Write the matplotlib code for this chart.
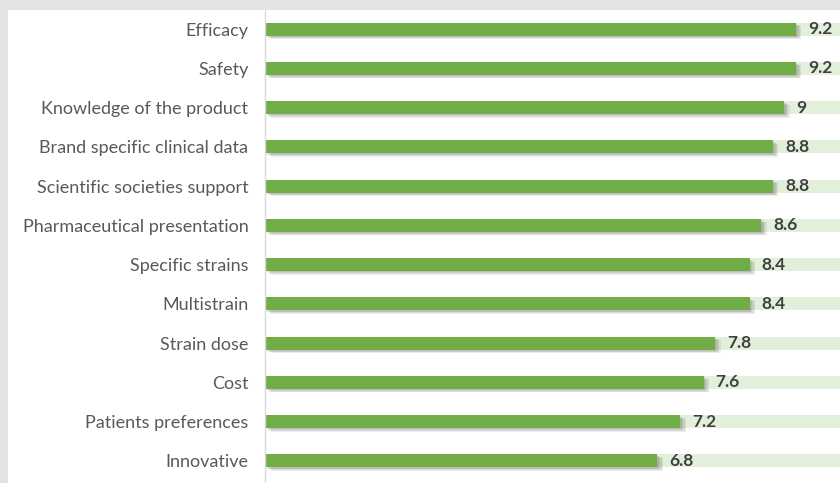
import matplotlib
matplotlib.use("Agg")
import matplotlib.pyplot as plt
import matplotlib.patheffects as pe
from matplotlib.patches import Rectangle

categories = [
    "Efficacy", "Safety", "Knowledge of the product", "Brand specific clinical data",
    "Scientific societies support", "Pharmaceutical presentation", "Specific strains",
    "Multistrain", "Strain dose", "Cost", "Patients preferences", "Innovative",
]
scores = [9.2, 9.2, 9.0, 8.8, 8.8, 8.6, 8.4, 8.4, 7.8, 7.6, 7.2, 6.8]
score_labels = ["9.2", "9.2", "9", "8.8", "8.8", "8.6", "8.4", "8.4", "7.8", "7.6", "7.2", "6.8"]
full_scale = 10

W, H = 840, 483
fig = plt.figure(figsize=(W / 100, H / 100), dpi=100)
fig.patch.set_facecolor("#e4e4e4")
fig.add_artist(Rectangle((8 / W, 0), 1 - 8 / W, (H - 10) / H,
                         transform=fig.transFigure, facecolor="white",
                         edgecolor="none", zorder=0))

ax = fig.add_axes([265 / W, 2.5 / H, 1 - 265 / W, (H - 12) / H])
ax.set_facecolor("none")

ypos = list(range(len(categories)))
bar_h = 0.33

ax.barh(ypos, [full_scale] * len(categories), height=bar_h, color="#e2efda",
        edgecolor="none", zorder=1)
bars = ax.barh(ypos, scores, height=bar_h, color="#70ad47", edgecolor="none", zorder=2)

# soft drop shadow built from a few faint offset copies
shadow = [pe.SimplePatchShadow(offset=o, shadow_rgbFace="#000000", alpha=0.07)
          for o in [(1, -1), (2, -1.5), (3, -2), (4, -2.5)]]
for b in bars:
    b.set_path_effects(shadow + [pe.Normal()])

for y, v, lab in zip(ypos, scores, score_labels):
    ax.text(v + 0.21, y, lab, va="center", ha="left", fontsize=12.5,
            fontweight="bold", color="#404040", family="Lato", zorder=3)

ax.set_yticks(ypos)
ax.set_yticklabels(categories, fontsize=13, color="#595959", family="Lato")
ax.tick_params(axis="y", length=0, pad=12)
ax.set_xticks([])
ax.set_xlim(0, 575 / 57.7)
ax.set_ylim(len(categories) - 0.5, -0.5)

for s in ("top", "right", "bottom"):
    ax.spines[s].set_visible(False)
ax.spines["left"].set_color("#d9d9d9")
ax.spines["left"].set_linewidth(1)

fig.savefig("out.png", dpi=100, facecolor=fig.get_facecolor())
